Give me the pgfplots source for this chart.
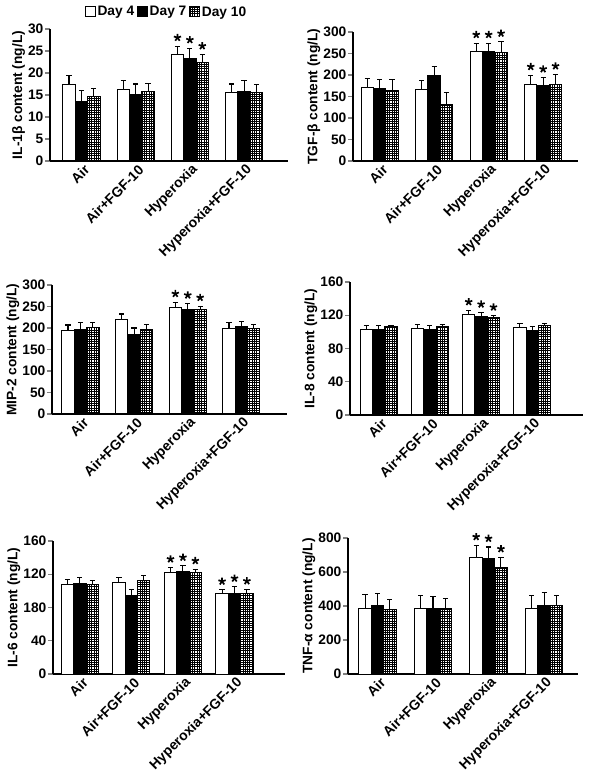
\documentclass[border=0pt]{standalone}
\usepackage{pgfplots}
\pgfplotsset{compat=1.18}
\usepackage{fontspec}
\setmainfont{Liberation Sans}
\usetikzlibrary{patterns,plotmarks}
\newcommand\lbl{\bfseries\fontsize{13.8}{15}\selectfont}
\newcommand\xlbl{\bfseries\fontsize{14}{16}\selectfont}
\pgfdeclarepatternformonly{finegrid}{\pgfqpoint{-1pt}{-1pt}}{\pgfqpoint{3.4pt}{3.4pt}}{\pgfqpoint{2.3pt}{2.3pt}}{%
  \pgfsetlinewidth{0.55pt}%
  \pgfpathmoveto{\pgfqpoint{0pt}{0pt}}\pgfpathlineto{\pgfqpoint{0pt}{2.4pt}}%
  \pgfpathmoveto{\pgfqpoint{0pt}{0pt}}\pgfpathlineto{\pgfqpoint{2.4pt}{0pt}}%
  \pgfusepath{stroke}}
\pgfplotsset{
  panel/.style={
    scale only axis, axis lines=left, axis line style={-, line width=1.2pt},
    ymin=0,
    xtick={0,1,2,3},
    xticklabels={Air,Air+FGF-10,Hyperoxia,Hyperoxia+FGF-10},
    x tick label style={rotate=45, anchor=east, font=\xlbl, inner sep=1pt, xshift=4bp, yshift=-5bp},
    xtick style={draw=none},
    y tick label style={font=\lbl, inner sep=1.5pt},
    ytick style={line width=1.2pt},
    tick align=outside, major tick length=5bp,
    ylabel style={font=\lbl, yshift=-2bp},
    /pgf/number format/assume math mode=true,
    bar width=12.4bp,
    error bars/y dir=plus, error bars/y explicit,
    error bars/error bar style={line width=1.1pt},
    error bars/error mark options={rotate=90, mark size=2.6bp, line width=1.1pt},
    legend image code/.code={\draw[#1] (0bp,-5bp) rectangle (9.5bp,5bp);},
  },
  d4/.style={ybar, fill=white, draw=black, line width=1pt, bar shift=0bp},
  d7/.style={ybar, fill=black, draw=black, line width=1pt, bar shift=0bp},
  d10/.style={ybar, pattern=finegrid, draw=black, line width=1pt, bar shift=0bp},
  st/.style={only marks, mark=star, mark size=3.8bp, line width=1.7pt, draw=black,
    error bars/y dir=none, mark options={yshift=8.5bp}},
}
\begin{document}
\begin{tikzpicture}
\path[use as bounding box] (0,0) rectangle (590bp,779bp);
% Panel 1: IL-1beta  (offset 0.229)
\begin{axis}[panel, at={(50bp,618bp)}, anchor=south west, width=238bp, height=132bp,
  xmin=-0.58, xmax=3.81, ymax=30, ytick={0,5,...,30},
  ylabel={IL-1β content (ng/L)},
  legend style={at={(0.49,1)}, anchor=center, yshift=17bp, draw=none, fill=none,
    legend columns=3, font=\lbl, inner sep=1pt,
    /tikz/every even column/.style={column sep=1bp}},
  legend cell align=left]
\addplot[d4] coordinates {(-0.229,17.4)+-(0,2.1) (0.771,16.3)+-(0,1.9) (1.771,24.1)+-(0,2.0) (2.771,15.6)+-(0,1.9)};
\addplot[d7] coordinates {(0,13.6)+-(0,2.4) (1,15.2)+-(0,2.3) (2,23.3)+-(0,2.3) (3,15.75)+-(0,2.45)};
\addplot[d10] coordinates {(0.229,14.6)+-(0,1.8) (1.229,15.9)+-(0,1.7) (2.229,22.3)+-(0,1.9) (3.229,15.6)+-(0,1.8)};
\legend{Day 4,Day 7,Day 10}
\addplot[st] coordinates {(1.771,26.1) (2,25.6) (2.229,24.2)};
\end{axis}
% Panel 2: TGF-beta (offset 0.2275)
\begin{axis}[panel, at={(353bp,618bp)}, anchor=south west, width=225bp, height=129bp,
  xmin=-0.49, xmax=3.64, ymax=300, ytick={0,50,...,300},
  ylabel={TGF-β content (ng/L)}]
\addplot[d4] coordinates {(-0.2275,171)+-(0,21) (0.7725,167)+-(0,21) (1.7725,253.5)+-(0,20.5) (2.7725,178.5)+-(0,21)};
\addplot[d7] coordinates {(0,168.5)+-(0,20.5) (1,199.5)+-(0,19.5) (2,253.5)+-(0,20.5) (3,176)+-(0,18)};
\addplot[d10] coordinates {(0.2275,163)+-(0,26) (1.2275,132)+-(0,26.5) (2.2275,252)+-(0,25) (3.2275,178)+-(0,23)};
\addplot[st] coordinates {(1.7725,274) (2.7725,199.5) (2,274) (3,194) (2.2275,277) (3.2275,201)};
\end{axis}
% Panel 3: MIP-2 (offset 0.231)
\begin{axis}[panel, at={(52bp,365bp)}, anchor=south west, width=235bp, height=129bp,
  xmin=-0.53, xmax=3.85, ymax=300, ytick={0,50,...,300},
  ylabel={MIP-2 content (ng/L)}]
\addplot[d4] coordinates {(-0.231,194)+-(0,13) (0.769,220)+-(0,12.5) (1.769,247)+-(0,13) (2.769,199)+-(0,14)};
\addplot[d7] coordinates {(0,197.6)+-(0,14.4) (1,184.5)+-(0,15.5) (2,242.6)+-(0,14) (3,203)+-(0,13)};
\addplot[d10] coordinates {(0.231,200.7)+-(0,12.3) (1.231,197)+-(0,11) (2.231,242.6)+-(0,8.4) (3.231,198)+-(0,11)};
\addplot[st] coordinates {(1.769,260) (2,256.5) (2.231,251)};
\end{axis}
% Panel 4: IL-8 (offset 0.242)
\begin{axis}[panel, at={(350bp,364bp)}, anchor=south west, width=233bp, height=133bp,
  xmin=-0.56, xmax=3.99, ymax=160, ytick={0,40,...,160},
  ylabel={IL-8 content (ng/L)}]
\addplot[d4] coordinates {(-0.242,102.5)+-(0,4.8) (0.758,104.5)+-(0,4.8) (1.758,121.4)+-(0,4.4) (2.758,105.7)+-(0,4.8)};
\addplot[d7] coordinates {(0,103.3)+-(0,4.7) (1,103.3)+-(0,4.4) (2,118.6)+-(0,4.4) (3,101.3)+-(0,5.2)};
\addplot[d10] coordinates {(0.242,106.5)+-(0,1.5) (1.242,106.5)+-(0,2.8) (2.242,117.4)+-(0,2.0) (3.242,108)+-(0,2.5)};
\addplot[st] coordinates {(1.758,125.8) (2,123) (2.242,119.4)};
\end{axis}
% Panel 5: IL-6 (offset 0.241)
\begin{axis}[panel, at={(53bp,105bp)}, anchor=south west, width=232bp, height=133bp,
  xmin=-0.52, xmax=3.98, ymax=160, ytick={0,40,80,120,160},
  yticklabels={0,40,180,120,160},
  ylabel={IL-6 content (ng/L)}]
\addplot[d4] coordinates {(-0.241,107.6)+-(0,6) (0.759,109.6)+-(0,6.4) (1.759,121.6)+-(0,6.4) (2.759,96.8)+-(0,4.4)};
\addplot[d7] coordinates {(0,108.4)+-(0,7.2) (1,94.8)+-(0,6.8) (2,123.2)+-(0,6.8) (3,96.8)+-(0,8)};
\addplot[d10] coordinates {(0.241,107.6)+-(0,5.2) (1.241,112.8)+-(0,5.2) (2.241,121.6)+-(0,4.4) (3.241,96.8)+-(0,4.8)};
\addplot[st] coordinates {(1.759,128) (2.759,101.2) (2,130) (3,104.8) (2.241,126) (3.241,101.6)};
\end{axis}
% Panel 6: TNF-alpha (offset 0.223)
\begin{axis}[panel, at={(348bp,105bp)}, anchor=south west, width=230bp, height=136bp,
  xmin=-0.53, xmax=3.61, ymax=800, ytick={0,200,...,800},
  ylabel={TNF-α content (ng/L)}]
\addplot[d4] coordinates {(-0.223,387)+-(0,79) (0.777,383)+-(0,77) (1.777,686)+-(0,71) (2.777,387)+-(0,73)};
\addplot[d7] coordinates {(0,403)+-(0,73) (1,383)+-(0,73) (2,678)+-(0,69) (3,403)+-(0,79)};
\addplot[d10] coordinates {(0.223,377.5)+-(0,59) (1.223,385)+-(0,57) (2.223,627)+-(0,59) (3.223,401)+-(0,59)};
\addplot[st] coordinates {(1.777,757) (2,747) (2.223,686)};
\end{axis}
\end{tikzpicture}
\end{document}
